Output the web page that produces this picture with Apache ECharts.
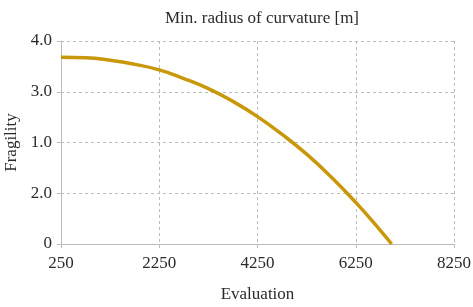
<!DOCTYPE html>
<html>
<head>
<meta charset="utf-8">
<script src="https://cdn.jsdelivr.net/npm/echarts@6/dist/echarts.min.js"></script>
<style>
  html, body { margin: 0; padding: 0; background: #fff; }
  #chart { width: 473px; height: 307px; }
</style>
</head>
<body>
<div id="chart"></div>
<script>
// curve
var evaluation = [250, 750, 1250, 1750, 2250, 2750, 3250, 3750, 4250, 4750, 5250, 5750, 6250, 6750, 6980];
var fragility = [3.68, 3.67, 3.62, 3.54, 3.43, 3.26, 3.06, 2.81, 2.51, 2.16, 1.77, 1.32, 0.82, 0.27, 0];

// tick labels as printed (bottom to top)
var yTickLabels = ["0", "2.0", "1.0", "3.0", "4.0"];
var xStart = 250;

var font = "Liberation Serif";
var axisGray = "#bbbbbb";
var textColor = "#2a2a2a";

var chart = echarts.init(document.getElementById("chart"));

var points = evaluation.map(function (x, i) {
  return [x - xStart, fragility[i]];
});

chart.setOption({
  animation: false,
  textStyle: { fontFamily: font },
  title: {
    text: "Min. radius of curvature [m]",
    left: 257,
    textAlign: "center",
    top: 5,
    textStyle: { fontFamily: font, fontSize: 17, fontWeight: "normal", color: textColor }
  },
  grid: { left: 61, right: 19, top: 41, bottom: 63, outerBoundsMode: "none", containLabel: false },
  xAxis: {
    type: "value",
    min: 0,
    max: 8000,
    interval: 2000,
    name: "Evaluation",
    nameLocation: "middle",
    nameGap: 42,
    nameTextStyle: { fontFamily: font, fontSize: 17, color: textColor },
    axisLine: { show: true, lineStyle: { color: axisGray } },
    axisTick: { show: true, length: 4, lineStyle: { color: axisGray } },
    axisLabel: {
      margin: 11,
      fontFamily: font,
      fontSize: 17,
      color: textColor,
      formatter: function (v) { return String(v + xStart); }
    },
    splitLine: { show: true, lineStyle: { color: axisGray, type: [3, 3] } }
  },
  yAxis: {
    type: "value",
    min: 0,
    max: 4,
    interval: 1,
    name: "Fragility",
    nameLocation: "middle",
    nameGap: 37,
    nameTextStyle: { fontFamily: font, fontSize: 17, color: textColor },
    axisLine: { show: true, lineStyle: { color: axisGray } },
    axisTick: { show: true, length: 4, lineStyle: { color: axisGray } },
    axisLabel: {
      margin: 9,
      fontFamily: font,
      fontSize: 17,
      color: textColor,
      formatter: function (v) { return yTickLabels[Math.round(v)]; }
    },
    splitLine: { show: true, lineStyle: { color: axisGray, type: [3, 3] } }
  },
  series: [
    {
      type: "line",
      data: points,
      smooth: true,
      showSymbol: false,
      lineStyle: { color: "#c8970a", width: 3.5 }
    }
  ]
});
</script>
</body>
</html>
